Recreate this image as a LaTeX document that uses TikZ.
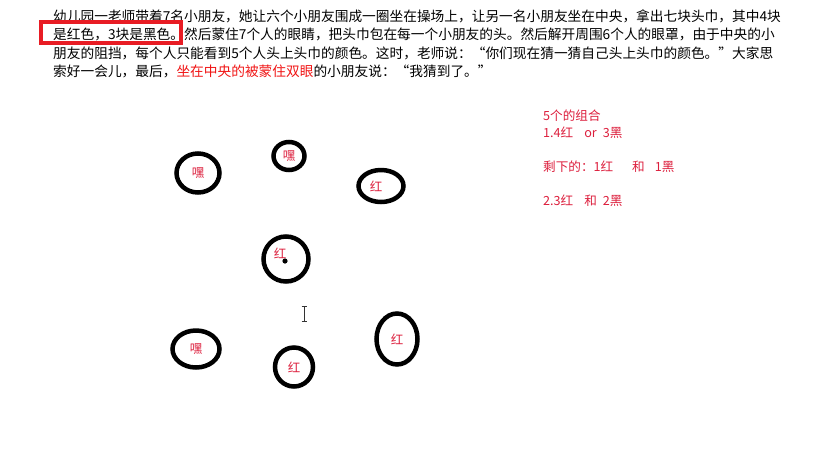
\documentclass[tikz,border=0pt]{standalone}
\usepackage{fontspec}
\setmainfont{Noto Sans CJK SC}
\usepackage{xcolor}
\usetikzlibrary{positioning, shapes.geometric}
\definecolor{notered}{RGB}{220,30,60}
\definecolor{hired}{RGB}{240,20,20}
\definecolor{boxred}{RGB}{232,28,36}
\tikzset{
  storyline/.style={
    anchor=west,
    inner sep=0pt,
    font=\fontsize{13.7}{16}\selectfont
  },
  noteline/.style={
    anchor=west,
    inner sep=0pt,
    text=notered,
    font=\fontsize{12.6}{14}\selectfont
  },
  kid/.style={
    ellipse,
    draw=black,
    line width=4.5pt,
    inner sep=0pt
  },
  scarf/.style={
    text=notered,
    inner sep=0pt,
    font=\fontsize{12.5}{14}\selectfont
  }
}

\begin{document}
\begin{tikzpicture}[x=1pt, y=-1pt]
  \useasboundingbox (0,0) rectangle (837,464);
  % story text
  \node[storyline] (l1) at (53,16)   {幼儿园一老师带着7名小朋友，她让六个小朋友围成一圈坐在操场上，让另一名小朋友坐在中央，拿出七块头巾，其中4块};
  \node[storyline] (l2) at (53,34.5) {是红色，3块是黑色。然后蒙住7个人的眼睛，把头巾包在每一个小朋友的头。然后解开周围6个人的眼罩，由于中央的小};
  \node[storyline] (l3) at (53,53)   {朋友的阻挡，每个人只能看到5个人头上头巾的颜色。这时，老师说：“你们现在猜一猜自己头上头巾的颜色。”大家思};
  \node[storyline] (l4) at (53,71.5) {索好一会儿，最后，\textcolor{hired}{坐在中央的被蒙住双眼}的小朋友说：“我猜到了。”};
  \draw[boxred, line width=4pt] (41,22) rectangle (181,43);

  % notes on the right
  \node[noteline] (n1) at (543,116) {5个的组合};
  \node[noteline] (n2) at (543,133) {1.4红\hspace{11pt}or\hspace{6pt}3黑};
  \node[noteline] (n3) at (543,167) {剩下的：1红\hspace{19pt}和\hspace{10pt}1黑};
  \node[noteline] (n4) at (543,201) {2.3红\hspace{11pt}和\hspace{6pt}2黑};

  % the children
  \node[kid, minimum width=43pt, minimum height=39pt] (k1) at (198,173) {};
  \node[kid, minimum width=31pt, minimum height=28pt] (k2) at (289,156) {};
  \node[kid, minimum width=45pt, minimum height=32pt] (k3) at (381,186) {};
  \node[kid, minimum width=45pt, minimum height=45pt] (k0) at (286,259) {};
  \node[kid, minimum width=47pt, minimum height=37pt] (k4) at (196,349) {};
  \node[kid, minimum width=38pt, minimum height=39pt] (k5) at (294,367) {};
  \node[kid, minimum width=41pt, minimum height=51pt] (k6) at (397,339) {};

  \node[scarf] (s1) at (k1) {嘿};
  \node[scarf] (s2) at (k2) {嘿};
  \node[scarf] (s3) at ([xshift=-5pt]k3) {红};
  \node[scarf] (s0) at (280,253) {红};
  \node[scarf] (s4) at (k4) {嘿};
  \node[scarf] (s5) at (k5) {红};
  \node[scarf] (s6) at (k6) {红};
  \fill[black] (285,261) circle (2.6pt);

  % text cursor
  \draw[black!80, line width=0.8pt] (304,307) -- (304,321)
    (301.5,306.5) -- (306.5,306.5) (301.5,321.5) -- (306.5,321.5);
\end{tikzpicture}
\end{document}
